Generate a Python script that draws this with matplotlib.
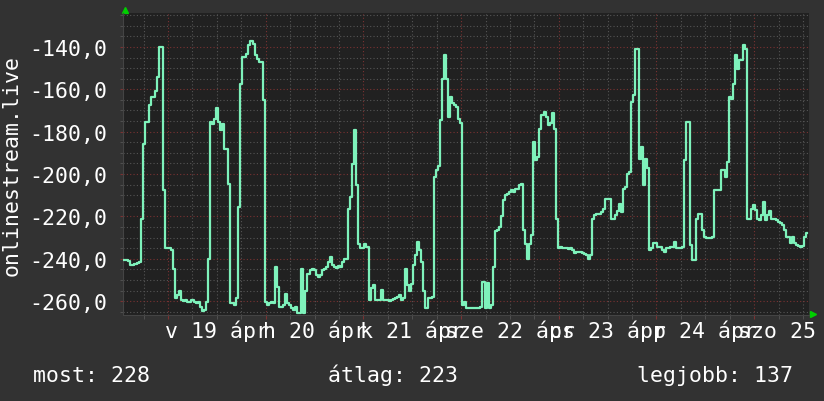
import numpy as np
import matplotlib
matplotlib.use("Agg")
import matplotlib.pyplot as plt
from matplotlib.ticker import FixedLocator

plt.rcParams['font.family'] = ['DejaVu Sans Mono', 'DejaVu Sans']

# ---- data (half-hour samples, negated values as plotted) ----
vals_a = [
    -240.6, -240.6, -240.6, -241.0, -243.0, -243.0, -242.5, -242.0, -241.5, -221.0,
    -185.6, -175.4, -175.4, -167.5, -163.6, -163.6, -161.0, -154.2, -140.0, -140.0,
    -207.6, -235.0, -235.0, -235.0, -236.0, -244.6, -258.7, -257.0, -255.4, -259.5,
    -260.0, -259.5, -260.3, -260.6, -259.5, -260.3, -261.0, -260.6, -262.6, -264.7,
    -264.2, -260.3, -239.9, -175.4, -176.2, -173.8, -169.0, -175.4, -179.3, -176.2,
    -188.0, -188.0, -204.5, -261.0, -261.0, -261.8, -258.7, -215.5, -157.3, -144.7,
    -144.7, -143.2, -139.2, -137.4, -138.4, -143.9, -145.5, -147.0, -147.0, -165.2,
    -260.3, -261.8, -261.0, -260.3, -261.0, -243.8, -253.3, -262.6, -262.6, -261.8,
    -256.4, -261.0, -261.8, -263.3, -264.2, -262.6, -265.7, -265.7, -244.6, -265.7,
    -255.4, -247.0, -245.4, -244.6, -245.4, -247.8, -248.5, -247.8, -245.4, -244.6,
    -243.8, -241.5, -239.1, -243.0, -243.8, -244.2, -243.3, -243.8, -241.5, -239.9,
    -239.9, -216.3, -210.8, -195.1, -179.3, -205.3, -232.8, -235.0, -235.0, -232.8,
    -234.4,
]
vals_b = [
    -259.5, -253.9, -252.3, -259.5, -259.5, -259.5, -254.9, -259.5, -259.5, -259.5,
    -260.0, -259.5, -259.0, -258.4, -257.9, -257.1, -259.5, -258.7, -244.6, -252.3,
    -255.4, -252.0, -243.0, -238.3, -232.0, -236.0, -241.5, -255.4, -263.3, -258.7,
    -258.4, -258.0, -201.4, -198.3, -196.0, -174.7, -155.0, -144.0, -155.0, -173.0,
    -163.6, -166.7, -167.2, -168.3, -173.8, -176.0, -261.8, -260.3, -263.3, -263.3,
    -263.3, -263.3, -263.3, -263.3, -263.3, -262.6, -250.7, -263.3, -251.5, -263.3,
    -261.8, -243.8, -227.0, -226.6, -225.0, -219.8, -212.4, -210.0, -209.2, -208.4,
    -207.3, -208.4, -206.9, -206.9, -205.3, -204.5, -226.5, -232.8, -239.9, -232.8,
    -228.9, -184.9, -193.5, -191.9, -178.5, -172.0, -170.5, -172.9, -176.8, -176.0,
    -171.3, -178.5, -221.0, -235.0, -234.4, -234.7, -234.8, -235.0, -235.3, -235.0,
    -235.8, -237.4, -236.9, -236.6, -236.9, -237.4, -237.8, -238.4, -239.9, -238.3,
    -221.0, -219.5, -218.7, -218.7, -217.9, -216.3, -211.6, -211.9,
]
vals_c = [
    -211.9, -221.0, -221.0, -219.5, -217.6, -214.0, -217.9, -206.9, -206.1, -199.8,
    -199.0, -166.0, -162.8, -140.8, -140.8, -192.7, -187.0, -205.3, -192.7, -197.0,
    -235.8, -235.0, -232.6, -232.6, -234.4, -234.4, -235.8, -236.6, -235.0, -234.8,
    -234.4, -234.4, -232.0, -235.0, -235.0, -235.0, -234.4, -193.3, -175.4, -175.4,
    -233.6, -240.6, -240.6, -221.0, -218.7, -218.7, -226.5, -229.6, -230.4, -230.4,
    -230.4, -229.6, -207.6, -207.6, -207.6, -198.3, -198.3, -201.4, -194.3, -163.6,
    -164.4, -157.3, -144.0, -150.4, -146.0, -146.0, -139.2, -140.8, -221.0, -221.0,
    -216.3, -214.7, -217.1, -221.0, -221.8, -219.5, -213.1, -221.8, -219.5, -217.6,
    -221.0, -221.3, -221.8, -222.6, -222.9, -223.8, -226.5, -229.6, -229.6, -232.6,
    -229.6, -232.6, -233.6, -233.9, -234.4, -233.9, -229.6, -228.0,
]
values = vals_a + vals_b + vals_c
hours = np.arange(len(values)) * 0.5

day_labels = ["v 19 ápr", "h 20 ápr", "k 21 ápr", "sze 22 ápr",
              "cs 23 ápr", "p 24 ápr", "szo 25 ápr"]
label_hours = [23, 47, 71, 95, 119, 143, 167]
day_starts = [11, 35, 59, 83, 107, 131, 155]
y_major = [-260, -240, -220, -200, -180, -160, -140]
y_label = "onlinestream.live"
legend_texts = ["most: 228", "átlag: 223", "legjobb: 137"]

# ---- figure ----
W, H = 824, 402
BG = '#323232'
fig = plt.figure(figsize=(W / 100, H / 100), dpi=100, facecolor=BG)
ax_l, ax_r, ax_t, ax_b = 123.3, 809.1, 14.0, 316.0
ax = fig.add_axes([ax_l / W, 1 - ax_b / H, (ax_r - ax_l) / W, (ax_b - ax_t) / H])
ax.set_facecolor('#212121')
ax.set_xlim(0, 168.5)
ax.set_ylim(-266.5, -124)

# grid
ax.xaxis.set_major_locator(FixedLocator(day_starts))
ax.xaxis.set_minor_locator(FixedLocator(np.arange(5, 168.5, 6)))
ax.yaxis.set_major_locator(FixedLocator(y_major))
ax.yaxis.set_minor_locator(FixedLocator(np.arange(-265, -124, 5)))
ax.set_axisbelow(True)
ax.grid(which='minor', color='#555555', linestyle=(0, (1, 2)), linewidth=0.8)
ax.grid(which='major', color='#7a3232', linestyle=(0, (1, 2)), linewidth=0.8)

ax.set_yticklabels([f"{v:.1f}".replace('.', ',') for v in y_major])
ax.tick_params(axis='y', which='major', length=2, color='#7a3232',
               labelsize=15.5, labelcolor='white', pad=9.5)
ax.tick_params(axis='y', which='minor', length=2, color='#555555')
ax.tick_params(axis='x', which='major', length=3, color='#7a3232', labelbottom=False)
ax.tick_params(axis='x', which='minor', length=3, color='#555555')

for s in ['top', 'right']:
    ax.spines[s].set_visible(False)
for s in ['left', 'bottom']:
    ax.spines[s].set_color('#444444')
    ax.spines[s].set_linewidth(0.8)

# data line
ax.plot(hours, values, color='#7ef2bb', linewidth=1.6, drawstyle='steps-mid', zorder=3)

# day labels
for h, lab in zip(label_hours, day_labels):
    ax.text(h, -22 / (ax_b - ax_t), lab, transform=ax.get_xaxis_transform(),
            ha='center', va='baseline', fontsize=15.5, color='white', clip_on=False)

# arrows
ax.plot([(124.5 - ax_l) / (ax_r - ax_l)], [(ax_b - 10.5) / (ax_b - ax_t)], marker='^',
        color='#00d000', markersize=5, transform=ax.transAxes, clip_on=False)
ax.plot([(813 - ax_l) / (ax_r - ax_l)], [(ax_b - 314.8) / (ax_b - ax_t)], marker='>',
        color='#00d000', markersize=5, transform=ax.transAxes, clip_on=False)

# y label
fig.text(12 / W, 1 - 165.5 / H, y_label, rotation=90, ha='center', va='center',
         fontsize=15.5, color='white')

# legend line
for xpix, t in zip([33, 328, 637], legend_texts):
    fig.text(xpix / W, 1 - 382 / H, t, ha='left', va='baseline',
             fontsize=15.5, color='white')

fig.savefig('out.png', dpi=100, facecolor=BG)
